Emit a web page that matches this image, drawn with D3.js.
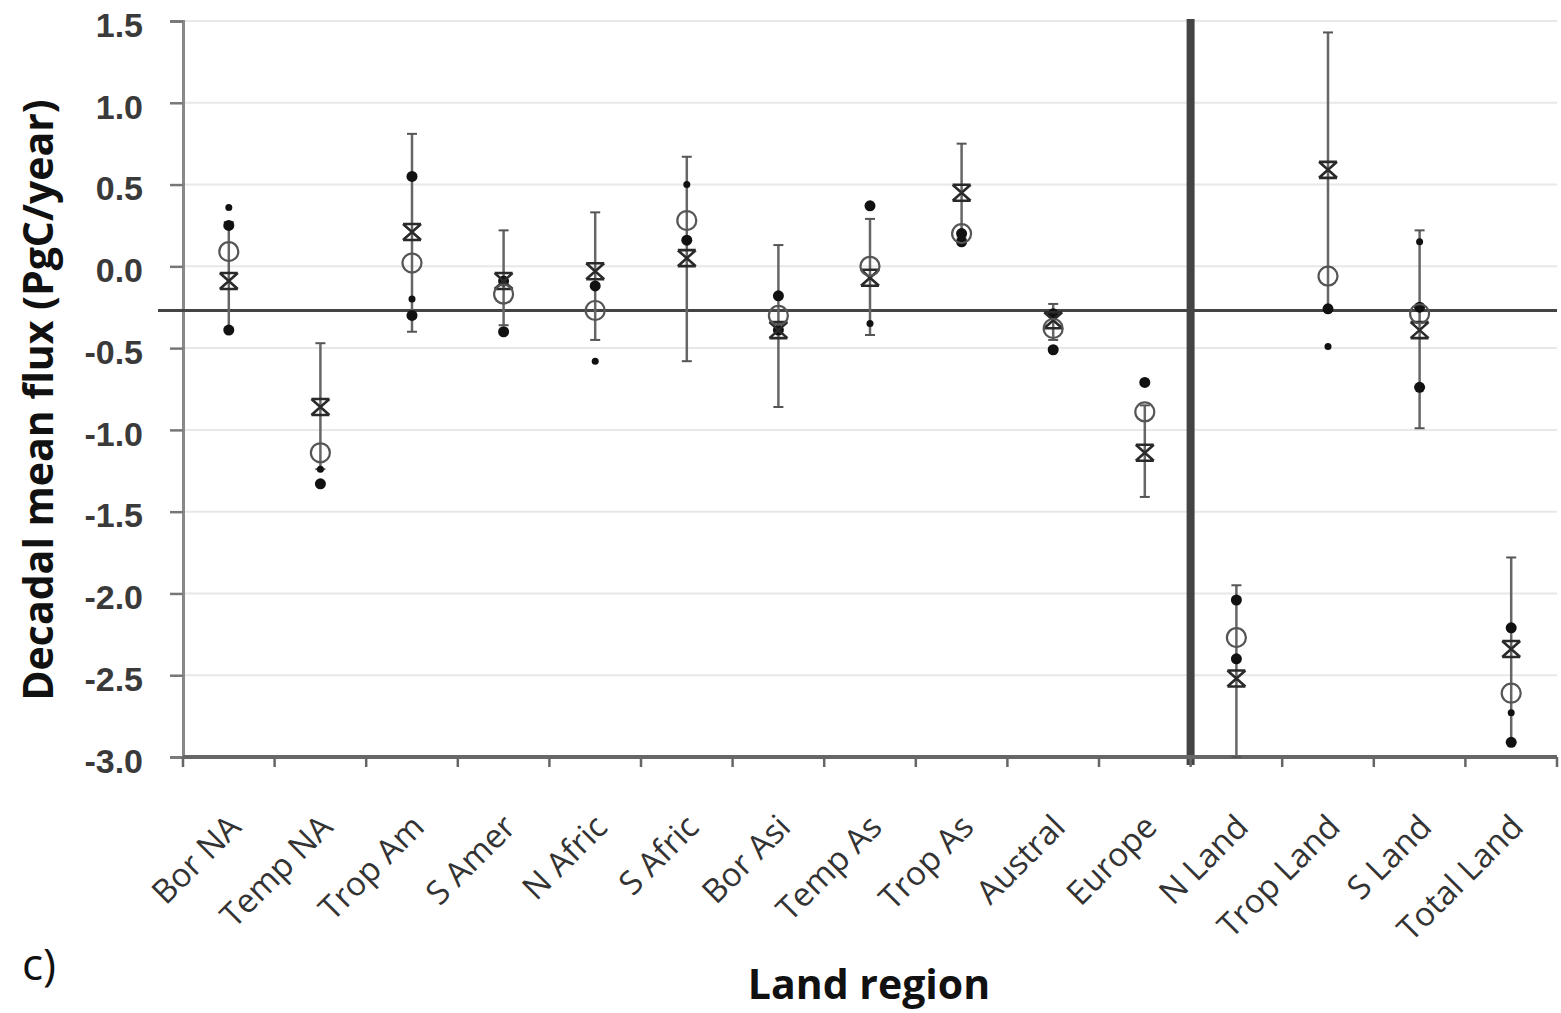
<!DOCTYPE html>
<html>
<head>
<meta charset="utf-8">
<script src="https://cdn.jsdelivr.net/npm/d3@7"></script>
<style>
  body { margin: 0; background: #fff; }
  svg { display: block; font-family: "Open Sans", "DejaVu Sans", sans-serif; }
</style>
</head>
<body>
<svg></svg>
<script>
let width = 1561, height = 1013;

// regions
const regions = ["Bor NA", "Temp NA", "Trop Am", "S Amer", "N Afric", "S Afric", "Bor Asi",
  "Temp As", "Trop As", "Austral", "Europe", "N Land", "Trop Land", "S Land", "Total Land"];

// open circles
const circleVals = [0.09, -1.14, 0.02, -0.17, -0.27, 0.28, -0.30, 0.00, 0.20, -0.38, -0.89, -2.27, -0.06, -0.29, -2.61];
// crosses
const crossVals = [-0.09, -0.86, 0.21, -0.09, -0.03, 0.05, -0.39, -0.07, 0.45, -0.33, -1.14, -2.52, 0.59, -0.39, -2.34];
// filled dots (large)
const dotA = [0.25, -1.33, 0.55, -0.09, -0.12, 0.16, -0.18, 0.37, 0.20, -0.29, -0.71, -2.04, -0.26, -0.25, -2.21];
const dotB = [-0.39, null, -0.30, -0.40, null, null, -0.39, null, 0.15, -0.51, null, -2.40, null, -0.74, -2.91];
// filled dots (small)
const dotC = [0.36, -1.24, -0.20, null, -0.58, 0.50, null, -0.35, null, null, null, null, -0.49, 0.15, -2.73];
// error bar range
const errHigh = [0.27, -0.47, 0.81, 0.22, 0.33, 0.67, 0.13, 0.29, 0.75, -0.23, -0.85, -1.95, 1.43, 0.22, -1.78];
const errLow = [-0.38, -1.24, -0.40, -0.36, -0.45, -0.58, -0.86, -0.42, 0.17, -0.45, -1.41, -3.0, -0.26, -0.99, -2.91];

const yTicks = [-3.0, -2.5, -2.0, -1.5, -1.0, -0.5, 0.0, 0.5, 1.0, 1.5];
const refLine = -0.27;
const splitAfter = "Europe";

let svg = d3.select("svg")
    .attr("width", width)
    .attr("height", height);

let mLeft = 183, mRight = 1557, mTop = 21, mBottom = 757;

let x = d3.scaleBand().domain(regions).range([mLeft, mRight]).padding(0);
let y = d3.scaleLinear().domain([-3, 1.5]).range([mBottom, mTop]);
let cx = d => x(d) + x.bandwidth() / 2;

// gridlines
svg.append("g")
    .selectAll("line")
    .data(yTicks.filter(d => d > -3))
    .enter()
    .append("line")
    .attr("x1", mLeft).attr("x2", mRight)
    .attr("y1", d => y(d)).attr("y2", d => y(d))
    .attr("stroke", "#e8e8e8")
    .attr("stroke-width", 2);

// y axis
let yAxis = svg.append("g")
    .attr("transform", "translate(" + mLeft + ",0)")
    .call(d3.axisLeft(y).tickValues(yTicks).tickFormat(d => d.toFixed(1)).tickSize(13).tickPadding(27));
yAxis.select(".domain").attr("stroke", "#888").attr("stroke-width", 3);
yAxis.selectAll(".tick line").attr("stroke", "#777").attr("stroke-width", 2.5);
yAxis.selectAll("text")
    .attr("fill", "#3a3a3a")
    .attr("dy", "0.45em")
    .style("font-size", "34px")
    .style("font-weight", "600");

// reference horizontal line
svg.append("line")
    .attr("x1", mLeft - 25).attr("x2", mRight)
    .attr("y1", y(refLine)).attr("y2", y(refLine))
    .attr("stroke", "#444")
    .attr("stroke-width", 3);

// vertical separator
let sepX = x(splitAfter) + x.bandwidth();
svg.append("line")
    .attr("x1", sepX).attr("x2", sepX)
    .attr("y1", mTop - 2).attr("y2", mBottom + 8)
    .attr("stroke", "#444")
    .attr("stroke-width", 8);

// x axis
let xAxis = svg.append("g")
    .attr("transform", "translate(0," + mBottom + ")");
xAxis.append("line")
    .attr("x1", mLeft).attr("x2", mRight)
    .attr("stroke", "#666")
    .attr("stroke-width", 4);
xAxis.selectAll(".xt")
    .data(regions.concat(["end"]))
    .enter()
    .append("line")
    .attr("class", "xt")
    .attr("x1", (d, i) => mLeft + i * x.bandwidth())
    .attr("x2", (d, i) => mLeft + i * x.bandwidth())
    .attr("y1", 0).attr("y2", 10)
    .attr("stroke", "#666")
    .attr("stroke-width", 2.5);
xAxis.selectAll(".xl")
    .data(regions)
    .enter()
    .append("text")
    .attr("class", "xl")
    .attr("text-anchor", "end")
    .attr("transform", d => "translate(" + (cx(d) + 14) + ",72) rotate(-45)")
    .attr("fill", "#333")
    .style("font-size", "33px")
    .text(d => d);

// error bars
let eb = svg.append("g");
eb.selectAll(".eb")
    .data(regions)
    .enter()
    .append("line")
    .attr("x1", d => cx(d)).attr("x2", d => cx(d))
    .attr("y1", (d, i) => y(errHigh[i])).attr("y2", (d, i) => y(errLow[i]))
    .attr("stroke", "#666")
    .attr("stroke-width", 2.5);
[errHigh, errLow].forEach(arr => {
  eb.selectAll(null)
      .data(regions)
      .enter()
      .append("line")
      .attr("x1", d => cx(d) - 5).attr("x2", d => cx(d) + 5)
      .attr("y1", (d, i) => y(arr[i])).attr("y2", (d, i) => y(arr[i]))
      .attr("stroke", "#555")
      .attr("stroke-width", 2);
});

// filled dots
function dots(arr, r) {
  svg.append("g")
      .selectAll("circle")
      .data(regions.map((d, i) => ({ r: d, v: arr[i] })).filter(d => d.v !== null))
      .enter()
      .append("circle")
      .attr("cx", d => cx(d.r))
      .attr("cy", d => y(d.v))
      .attr("r", r)
      .attr("fill", "#111");
}
dots(dotA, 5.5);
dots(dotB, 5.5);
dots(dotC, 3.5);

// crosses
let crossPath = "M-9,-8L9,8M9,-8L-9,8M-9,-8L9,-8M-9,8L9,8";
svg.append("g")
    .selectAll("path")
    .data(regions)
    .enter()
    .append("path")
    .attr("transform", (d, i) => "translate(" + cx(d) + "," + y(crossVals[i]) + ")")
    .attr("d", crossPath)
    .attr("fill", "none")
    .attr("stroke", "#2a2a2a")
    .attr("stroke-width", 2.6);

// open circles
svg.append("g")
    .selectAll("circle")
    .data(regions)
    .enter()
    .append("circle")
    .attr("cx", d => cx(d))
    .attr("cy", (d, i) => y(circleVals[i]))
    .attr("r", 9.5)
    .attr("fill", "none")
    .attr("stroke", "#555")
    .attr("stroke-width", 2.2);

// titles
svg.append("text")
    .attr("transform", "translate(53,400) rotate(-90)")
    .attr("text-anchor", "middle")
    .attr("fill", "#111")
    .style("font-size", "41px")
    .style("font-weight", "bold")
    .text("Decadal mean flux (PgC/year)");

svg.append("text")
    .attr("x", 869).attr("y", 999)
    .attr("text-anchor", "middle")
    .attr("fill", "#111")
    .style("font-size", "41px")
    .style("font-weight", "bold")
    .text("Land region");

svg.append("text")
    .attr("x", 22).attr("y", 980)
    .attr("fill", "#111")
    .style("font-size", "44px")
    .text("c)");
</script>
</body>
</html>
